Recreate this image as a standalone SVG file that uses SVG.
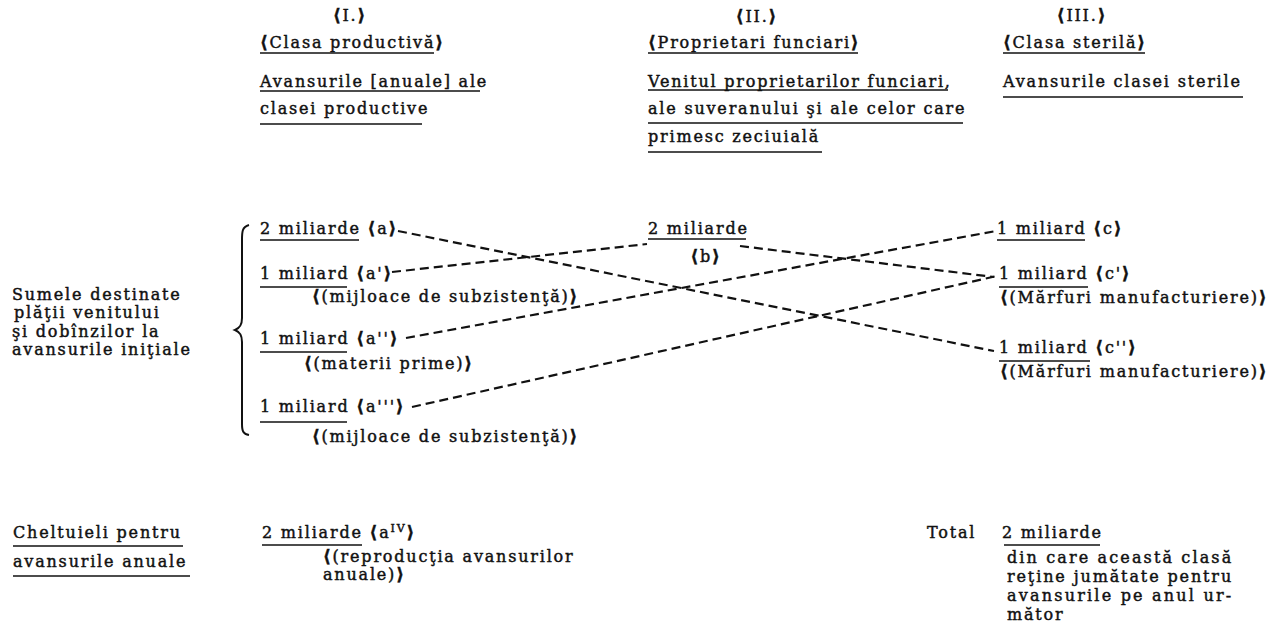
<svg xmlns="http://www.w3.org/2000/svg" width="1269" height="638" viewBox="0 0 1269 638">
<style>
text{font-family:"DejaVu Serif","Liberation Serif",serif;font-size:16px;fill:#111;stroke:#111;stroke-width:0.45;letter-spacing:1.8px}
.c{text-anchor:middle}
.k{font-weight:bold;font-family:"DejaVu Sans","Liberation Sans",sans-serif;font-size:17px}
.u{stroke:#111;stroke-width:1.6;fill:none}
.d{stroke:#111;stroke-width:2.2;fill:none;stroke-dasharray:9 5}
</style>
<rect width="1269" height="638" fill="#fff"/>
<g id="col1">
<text x="350" y="21" class="c"><tspan class="k">⟨</tspan>I.<tspan class="k">⟩</tspan></text>
<text x="260" y="48"><tspan class="k">⟨</tspan>Clasa productivă<tspan class="k">⟩</tspan></text>
<path class="u" d="M260 53H434"/>
<text x="260" y="87">Avansurile [anuale] ale</text>
<path class="u" d="M260 91H480"/>
<text x="260" y="114">clasei productive</text>
<path class="u" d="M260 124H422"/>
</g>
<g id="col2">
<text x="757" y="22" class="c"><tspan class="k">⟨</tspan>II.<tspan class="k">⟩</tspan></text>
<text x="648" y="48"><tspan class="k">⟨</tspan>Proprietari funciari<tspan class="k">⟩</tspan></text>
<path class="u" d="M648 53H858"/>
<text x="648" y="87">Venitul proprietarilor funciari,</text>
<path class="u" d="M648 90H948"/>
<text x="648" y="114">ale suveranului şi ale celor care</text>
<path class="u" d="M648 123H963"/>
<text x="648" y="142">primesc zeciuială</text>
<path class="u" d="M648 152H822"/>
</g>
<g id="col3">
<text x="1082" y="21" class="c"><tspan class="k">⟨</tspan>III.<tspan class="k">⟩</tspan></text>
<text x="1003" y="48"><tspan class="k">⟨</tspan>Clasa sterilă<tspan class="k">⟩</tspan></text>
<path class="u" d="M1003 53H1145"/>
<text x="1003" y="87">Avansurile clasei sterile</text>
<path class="u" d="M1003 97H1243"/>
</g>
<g id="sumele">
<text x="12" y="300">Sumele destinate</text>
<text x="14" y="318">plăţii venitului</text>
<text x="12" y="337">şi dobînzilor la</text>
<text x="12" y="355">avansurile iniţiale</text>
<path class="u" style="stroke-width:2" d="M249 225C242 227 242 232 242 240V318C242 325 240 328 235 330C240 332 242 335 242 342V424C242 431 243 434 249 435"/>
</g>
<g id="a">
<text x="260" y="234">2 miliarde <tspan class="k">⟨</tspan>a<tspan class="k">⟩</tspan></text>
<path class="u" d="M260 240H359"/>
</g>
<g id="a1">
<text x="260" y="279">1 miliard <tspan class="k">⟨</tspan>a'<tspan class="k">⟩</tspan></text>
<path class="u" d="M260 287H347"/>
<text x="312" y="302"><tspan class="k">⟨</tspan>(mijloace de subzistenţă)<tspan class="k">⟩</tspan></text>
</g>
<g id="a2">
<text x="260" y="344">1 miliard <tspan class="k">⟨</tspan>a''<tspan class="k">⟩</tspan></text>
<path class="u" d="M260 352H347"/>
<text x="304" y="369"><tspan class="k">⟨</tspan>(materii prime)<tspan class="k">⟩</tspan></text>
</g>
<g id="a3">
<text x="260" y="412">1 miliard <tspan class="k">⟨</tspan>a'''<tspan class="k">⟩</tspan></text>
<path class="u" d="M260 422H347"/>
<text x="312" y="442"><tspan class="k">⟨</tspan>(mijloace de subzistenţă)<tspan class="k">⟩</tspan></text>
</g>
<g id="b">
<text x="648" y="234">2 miliarde</text>
<path class="u" d="M648 239H746"/>
<text x="706" y="262" class="c"><tspan class="k">⟨</tspan>b<tspan class="k">⟩</tspan></text>
</g>
<g id="c">
<text x="997" y="234">1 miliard <tspan class="k">⟨</tspan>c<tspan class="k">⟩</tspan></text>
<path class="u" d="M997 240H1085"/>
</g>
<g id="c1">
<text x="999" y="279">1 miliard <tspan class="k">⟨</tspan>c'<tspan class="k">⟩</tspan></text>
<path class="u" d="M999 287H1088"/>
<text x="1000" y="303"><tspan class="k">⟨</tspan>(Mărfuri manufacturiere)<tspan class="k">⟩</tspan></text>
</g>
<g id="c2">
<text x="999" y="353">1 miliard <tspan class="k">⟨</tspan>c''<tspan class="k">⟩</tspan></text>
<path class="u" d="M999 361H1090"/>
<text x="1000" y="377"><tspan class="k">⟨</tspan>(Mărfuri manufacturiere)<tspan class="k">⟩</tspan></text>
</g>
<g id="connectors">
<path class="d" d="M398 231L994 351"/>
<path class="d" d="M392 272L647 244"/>
<path class="d" d="M740 246L994 277"/>
<path class="d" d="M406 338L996 231"/>
<path class="d" d="M412 407L997 276"/>
</g>
<g id="cheltuieli">
<text x="13" y="538">Cheltuieli pentru</text>
<path class="u" d="M13 546H183"/>
<text x="13" y="567">avansurile anuale</text>
<path class="u" d="M13 576H190"/>
</g>
<g id="aIV">
<text x="262" y="538">2 miliarde <tspan class="k">⟨</tspan>a<tspan font-size="11" dy="-6">IV</tspan><tspan class="k" dy="6">⟩</tspan></text>
<path class="u" d="M262 545H362"/>
<text x="323" y="562"><tspan class="k">⟨</tspan>(reproducţia avansurilor</text>
<text x="323" y="580">anuale)<tspan class="k">⟩</tspan></text>
</g>
<g id="total">
<text x="927" y="538">Total</text>
<text x="1002" y="538">2 miliarde</text>
<path class="u" d="M1004 545H1100"/>
<text x="1007" y="563" textLength="226" lengthAdjust="spacing">din care această clasă</text>
<text x="1007" y="582" textLength="226" lengthAdjust="spacing">reţine jumătate pentru</text>
<text x="1007" y="601" textLength="226" lengthAdjust="spacing">avansurile pe anul ur-</text>
<text x="1007" y="620">mător</text>
</g>
</svg>
